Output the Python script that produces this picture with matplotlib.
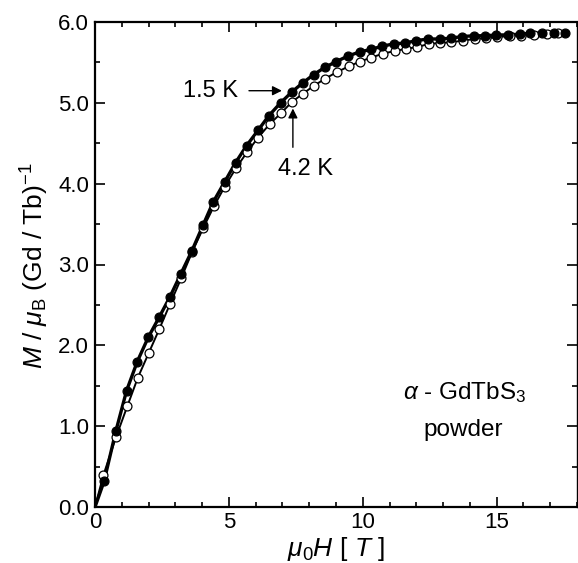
import matplotlib
matplotlib.use("Agg")
import matplotlib.pyplot as plt
from matplotlib.ticker import MultipleLocator, FormatStrFormatter

plt.rcParams['font.family'] = ['Liberation Sans', 'DejaVu Sans']
plt.rcParams['mathtext.fontset'] = 'custom'
plt.rcParams['mathtext.rm'] = 'Liberation Sans'
plt.rcParams['mathtext.it'] = 'Liberation Sans:italic'
plt.rcParams['mathtext.bf'] = 'Liberation Sans:bold'

# 1.5 K (filled circles)
H_15 = [0.34, 0.78, 1.18, 1.58, 1.99, 2.40, 2.80, 3.20, 3.62, 4.04, 4.41, 4.84,
        5.25, 5.66, 6.09, 6.49, 6.93, 7.37, 7.77, 8.17, 8.59, 9.01, 9.45, 9.89,
        10.29, 10.72, 11.16, 11.59, 12.00, 12.44, 12.87, 13.28, 13.71, 14.14,
        14.58, 14.99, 15.42, 15.86, 16.26, 16.69, 17.13, 17.54]
M_15 = [0.32, 0.94, 1.44, 1.80, 2.10, 2.35, 2.60, 2.88, 3.17, 3.49, 3.77, 4.02,
        4.26, 4.47, 4.66, 4.84, 5.00, 5.14, 5.25, 5.35, 5.44, 5.51, 5.58, 5.63,
        5.66, 5.70, 5.73, 5.74, 5.77, 5.79, 5.79, 5.80, 5.82, 5.83, 5.83, 5.84,
        5.84, 5.85, 5.86, 5.86, 5.86, 5.86]

# 4.2 K (open circles)
H_42 = [0.31, 0.78, 1.21, 1.60, 2.00, 2.40, 2.80, 3.22, 3.62, 4.04, 4.44, 4.84,
        5.26, 5.68, 6.09, 6.53, 6.94, 7.35, 7.75, 8.17, 8.60, 9.03, 9.47, 9.89,
        10.32, 10.76, 11.19, 11.63, 12.04, 12.47, 12.90, 13.31, 13.74, 14.18,
        14.62, 15.01, 15.49, 15.91, 16.39, 16.87, 17.28]
M_42 = [0.39, 0.86, 1.25, 1.60, 1.90, 2.20, 2.51, 2.83, 3.15, 3.45, 3.72, 3.96,
        4.19, 4.39, 4.57, 4.74, 4.87, 5.01, 5.11, 5.21, 5.30, 5.38, 5.45, 5.51,
        5.56, 5.61, 5.64, 5.67, 5.69, 5.73, 5.74, 5.75, 5.77, 5.79, 5.80, 5.81,
        5.83, 5.83, 5.84, 5.85, 5.86]

x_ticks = [0, 5, 10, 15]
y_ticks = [0.0, 1.0, 2.0, 3.0, 4.0, 5.0, 6.0]

fig = plt.figure(figsize=(5.78, 5.63), dpi=100)
ax = fig.add_axes([95/578, 1 - 507/563, (577 - 95)/578, (507 - 22)/563])

# fit lines (start at origin)
ax.plot([0.0] + H_15, [0.0] + M_15, '-', color='black', lw=2.4, zorder=2)
ax.plot([0.0] + H_42, [0.0] + M_42, '-', color='black', lw=1.4, zorder=2)

ax.plot(H_42, M_42, 'o', ms=6.4, mfc='white', mec='black', mew=0.9, zorder=3)
ax.plot(H_15, M_15, 'o', ms=6.4, mfc='black', mec='black', mew=0.9, zorder=4)

ax.set_xlim(0, 18)
ax.set_ylim(0, 6.0)
ax.set_xticks(x_ticks)
ax.set_yticks(y_ticks)
ax.xaxis.set_minor_locator(MultipleLocator(1))
ax.yaxis.set_minor_locator(MultipleLocator(0.5))
ax.yaxis.set_major_formatter(FormatStrFormatter('%.1f'))
ax.tick_params(which='both', direction='in', top=True, right=True,
               width=1.2, colors='black', labelsize=16)
ax.tick_params(which='major', length=7)
ax.tick_params(which='minor', length=3.5)
ax.tick_params(axis='x', pad=3.5)
ax.tick_params(axis='y', pad=4.2)
for s in ax.spines.values():
    s.set_linewidth(1.6)
ax.spines['right'].set_linewidth(1.0)

ax.set_xlabel(r'$\mu_0H$ [ $T$ ]', fontsize=19)
ax.set_ylabel(r'$M$ / $\mu_{\mathrm{B}}$ (Gd / Tb)$^{-1}$', fontsize=19)
ax.xaxis.label.set_va('center')
ax.yaxis.label.set_va('center')
ax.xaxis.set_label_coords(0.5, (507 - 549) / 485)
ax.yaxis.set_label_coords((35 - 95) / 482, (507 - 266) / 485)

arrow = dict(arrowstyle='-|>', color='black', lw=1.0, mutation_scale=14,
             shrinkA=0, shrinkB=0)
ax.annotate('', xy=(6.98, 5.15), xytext=(5.75, 5.15), arrowprops=arrow)
ax.text(4.3, 5.15, '1.5 K', fontsize=17, ha='center', va='center')
ax.annotate('', xy=(7.39, 4.93), xytext=(7.39, 4.45), arrowprops=arrow)
ax.text(7.85, 4.18, '4.2 K', fontsize=17, ha='center', va='center')

ax.text(13.8, 1.41, r'$\alpha$ - GdTbS$_3$', fontsize=17.5, ha='center', va='center')
ax.text(13.75, 0.95, 'powder', fontsize=17.5, ha='center', va='center')

fig.savefig('out.png', dpi=100)
